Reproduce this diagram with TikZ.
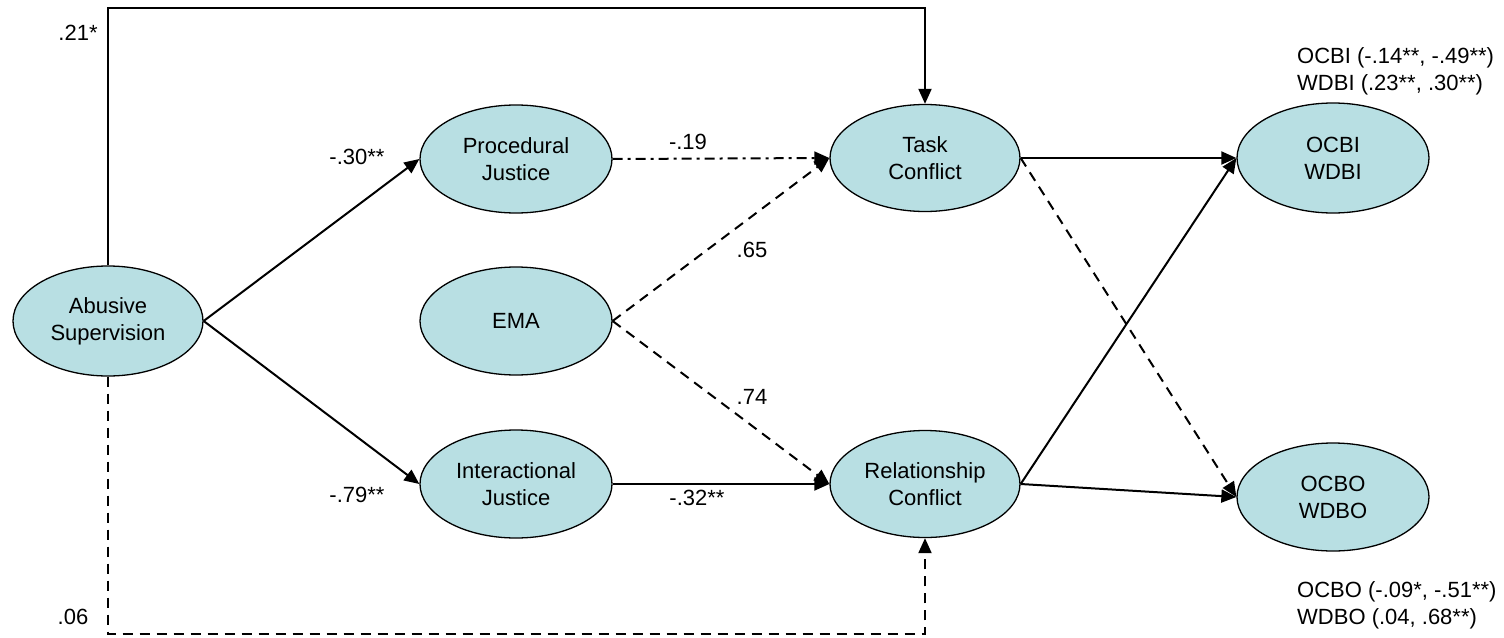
\documentclass[tikz,border=0pt]{standalone}
\usepackage{fontspec}
\setmainfont{Liberation Sans}
\usetikzlibrary{shapes.geometric,arrows.meta}
\definecolor{semfill}{RGB}{184,223,227}
\tikzset{
  latent/.style={ellipse, draw, line width=1.3pt, fill=semfill, minimum width=192pt,
    minimum height=108pt, inner sep=0pt, align=center},
  coef/.style={inner sep=0pt, align=left},
  link/.style={line width=2pt, -{Triangle[length=15pt,width=13pt]}},
  dashlink/.style={link, dash pattern=on 10pt off 7pt},
  dotlink/.style={link, dash pattern=on 10pt off 5pt on 3pt off 5pt}
}

\begin{document}
\begin{tikzpicture}[x=1pt, y=-1pt, font=\fontsize{22}{27}\selectfont]
  \useasboundingbox (0,0) rectangle (1504,637);

  \node [latent, minimum width=190pt, minimum height=110pt] (abuse) at (108,321) {Abusive\\Supervision};
  \node [latent] (proc) at (516,159) {Procedural\\Justice};
  \node [latent] (ema) at (516,321) {EMA};
  \node [latent] (inter) at (516,484) {Interactional\\Justice};
  \node [latent, minimum width=190pt, minimum height=107pt] (task) at (925,158) {Task\\Conflict};
  \node [latent, minimum width=190pt, minimum height=107pt] (rel) at (925,484) {Relationship\\Conflict};
  \node [latent, minimum height=110pt] (ocbi) at (1333,158) {OCBI\\WDBI};
  \node [latent] (ocbo) at (1333,497) {OCBO\\WDBO};

  \coordinate (topleft) at (108,8);
  \coordinate (topright) at (925,8);
  \coordinate (botleft) at (108,634);
  \coordinate (botright) at (925,634);

  \draw [link] (abuse.north) -- (topleft) -- (topright) -- (task.north);
  \draw [dashlink] (abuse.south) -- (botleft) -- (botright) -- (rel.south);
  \draw [link] (abuse.east) -- (proc.west);
  \draw [link] (abuse.east) -- (inter.west);
  \draw [dotlink] (proc.east) -- (task.west);
  \draw [dashlink] (ema.east) -- (task.west);
  \draw [dashlink] (ema.east) -- (rel.west);
  \draw [link] (inter.east) -- (rel.west);
  \draw [link] (task.east) -- (ocbi.west);
  \draw [dashlink] (task.east) -- (ocbo.west);
  \draw [link] (rel.east) -- (ocbi.west);
  \draw [link] (rel.east) -- (ocbo.west);

  \node [coef] (c21) at (78,33) {.21*};
  \node [coef] (c30) at (357,157) {-.30**};
  \node [coef] (c79) at (357,495) {-.79**};
  \node [coef] (c06) at (73,617) {.06};
  \node [coef] (c19) at (688,142) {-.19};
  \node [coef] (c65) at (752,250) {.65};
  \node [coef] (c74) at (752,397) {.74};
  \node [coef] (c32) at (697,498) {-.32**};

  \node [coef, anchor=west] (noteI) at (1297,71.5) {OCBI (-.14**, -.49**)\\WDBI (.23**, .30**)};
  \node [coef, anchor=west] (noteO) at (1297,605) {OCBO (-.09*, -.51**)\\WDBO (.04, .68**)};
\end{tikzpicture}
\end{document}
